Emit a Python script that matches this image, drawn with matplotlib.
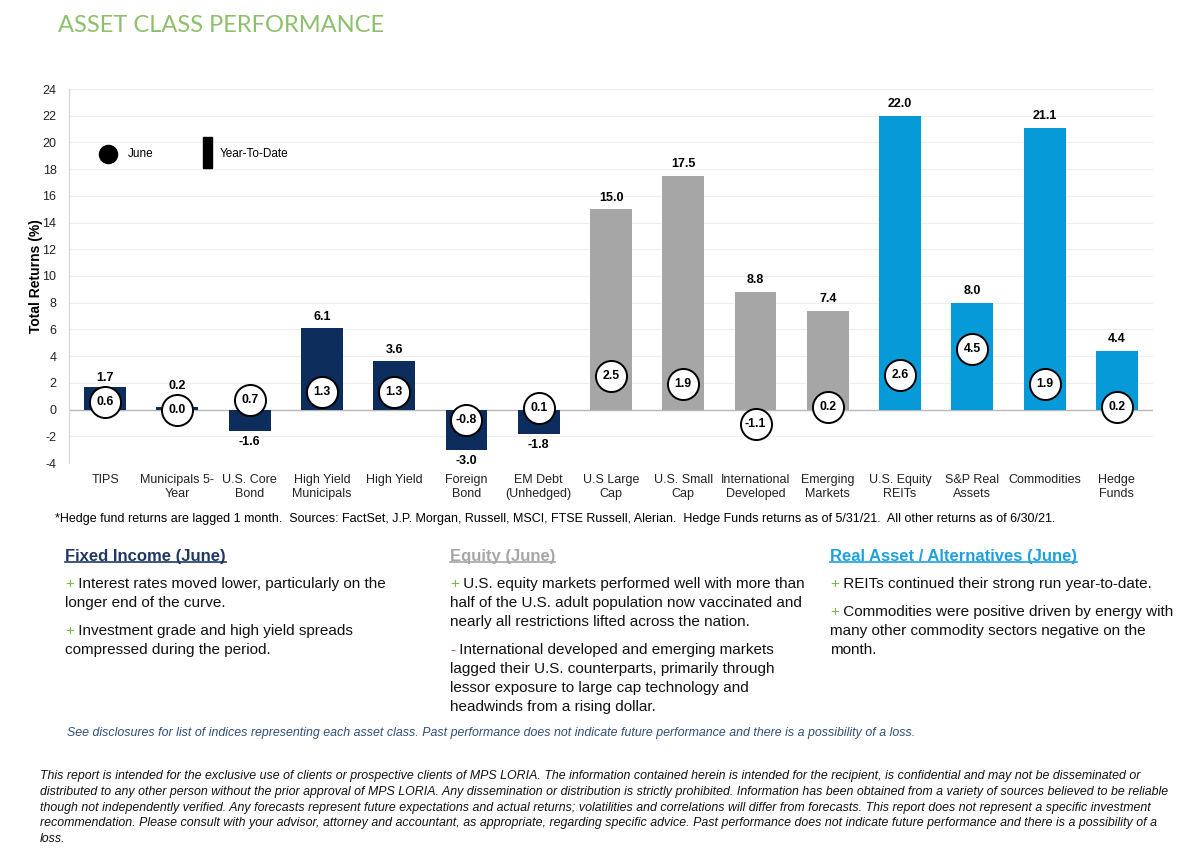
import numpy as np
import matplotlib.pyplot as plt
from matplotlib.lines import Line2D
from matplotlib.patches import Rectangle

# chart data
categories = ['TIPS', 'Municipals 5-\nYear', 'U.S. Core\nBond', 'High Yield\nMunicipals', 'High Yield',
              'Foreign\nBond', 'EM Debt\n(Unhedged)', 'U.S Large\nCap', 'U.S. Small\nCap',
              'International\nDeveloped', 'Emerging\nMarkets', 'U.S. Equity\nREITs', 'S&P Real\nAssets',
              'Commodities', 'Hedge\nFunds']
ytd = [1.7, 0.2, -1.6, 6.1, 3.6, -3.0, -1.8, 15.0, 17.5, 8.8, 7.4, 22.0, 8.0, 21.1, 4.4]
june = [0.6, 0.0, 0.7, 1.3, 1.3, -0.8, 0.1, 2.5, 1.9, -1.1, 0.2, 2.6, 4.5, 1.9, 0.2]
groups = ['fixed'] * 7 + ['equity'] * 4 + ['real'] * 4
yticks = list(range(-4, 25, 2))

group_colors = {'fixed': '#0c2d5c', 'equity': '#a6a6a6', 'real': '#069bd8'}
heading_colors = {'fixed': '#1f3864', 'equity': '#a6a6a6', 'real': '#1fa0dc'}

title = 'ASSET CLASS PERFORMANCE'
source_note = ('*Hedge fund returns are lagged 1 month.  Sources: FactSet, J.P. Morgan, Russell, MSCI, '
               'FTSE Russell, Alerian.  Hedge Funds returns as of 5/31/21.  All other returns as of 6/30/21.')

columns = [
    ('fixed', 'Fixed Income (June)', [
        ('+', ['Interest rates moved lower, particularly on the', 'longer end of the curve.']),
        ('+', ['Investment grade and high yield spreads', 'compressed during the period.']),
    ]),
    ('equity', 'Equity (June)', [
        ('+', ['U.S. equity markets performed well with more than',
               'half of the U.S. adult population now vaccinated and',
               'nearly all restrictions lifted across the nation.']),
        ('-', ['International developed and emerging markets',
               'lagged their U.S. counterparts, primarily through',
               'lessor exposure to large cap technology and',
               'headwinds from a rising dollar.']),
    ]),
    ('real', 'Real Asset / Alternatives (June)', [
        ('+', ['REITs continued their strong run year-to-date.']),
        ('+', ['Commodities were positive driven by energy with',
               'many other commodity sectors negative on the',
               'month.']),
    ]),
]

see_note = ('See disclosures for list of indices representing each asset class. Past performance does not '
            'indicate future performance and there is a possibility of a loss.')
disclaimer = [
    'This report is intended for the exclusive use of clients or prospective clients of MPS LORIA. The information contained herein is intended for the recipient, is confidential and may not be disseminated or',
    'distributed to any other person without the prior approval of MPS LORIA. Any dissemination or distribution is strictly prohibited. Information has been obtained from a variety of sources believed to be reliable',
    'though not independently verified. Any forecasts represent future expectations and actual returns; volatilities and correlations will differ from forecasts. This report does not represent a specific investment',
    'recommendation. Please consult with your advisor, attorney and accountant, as appropriate, regarding specific advice. Past performance does not indicate future performance and there is a possibility of a',
    'loss.',
]

W, H = 1200, 851
def fx(px):
    return px / W
def fy(py):
    return 1 - py / H

body = ['Liberation Sans', 'DejaVu Sans']
narrow = ['Liberation Sans Narrow', 'Liberation Sans', 'DejaVu Sans']
plt.rcParams['font.family'] = body

fig = plt.figure(figsize=(12, 8.51), dpi=100)
ax = fig.add_axes([fx(69), fy(463), fx(1153) - fx(69), fy(89) - fy(463)])

x = np.arange(len(categories))
colors = [group_colors[g] for g in groups]
ax.bar(x, ytd, width=0.58, color=colors, zorder=2)
ax.axhline(0, color='#b8b8b8', lw=1, zorder=1)
ax.scatter(x, june, s=500, facecolor='white', edgecolor='black', linewidth=1.4, zorder=4)
for i in range(len(x)):
    ax.text(x[i], june[i], f'{june[i]:.1f}', ha='center', va='center', fontsize=8.8,
            fontweight='bold', zorder=5)
    if ytd[i] >= 0:
        if june[i] + 1.1 > ytd[i]:
            ax.annotate(f'{ytd[i]:.1f}', (x[i], june[i]), xytext=(0, 13), textcoords='offset points',
                        ha='center', va='bottom', fontsize=9, fontweight='bold')
        else:
            ax.annotate(f'{ytd[i]:.1f}', (x[i], ytd[i]), xytext=(0, 4), textcoords='offset points',
                        ha='center', va='bottom', fontsize=9, fontweight='bold')
    else:
        ax.annotate(f'{ytd[i]:.1f}', (x[i], ytd[i]), xytext=(0, -4), textcoords='offset points',
                    ha='center', va='top', fontsize=9, fontweight='bold')

ax.set_xlim(-0.5, len(categories) - 0.5)
ax.set_ylim(-4, 24)
ax.set_yticks(yticks)
ax.set_yticklabels([str(t) for t in yticks], fontsize=9, color='#222222')
ax.set_xticks(x)
ax.set_xticklabels(categories, fontsize=9, color='#222222', linespacing=1.25)
ax.tick_params(axis='both', length=0)
ax.tick_params(axis='y', pad=9)
ax.tick_params(axis='x', pad=8)
ax.grid(axis='y', color='#eeeeee', lw=0.8, zorder=0)
ax.set_axisbelow(True)
for s in ['top', 'right', 'bottom']:
    ax.spines[s].set_visible(False)
ax.spines['left'].set_color('#d4d4d4')
ax.set_ylabel('Total Returns (%)', fontsize=10, fontweight='bold')
ax.yaxis.set_label_coords(-0.024, 0.5)

# legend
ax.scatter([0.036], [0.826], s=170, color='black', transform=ax.transAxes, clip_on=False)
ax.text(0.054, 0.826, 'June', transform=ax.transAxes, fontsize=8.5, va='center')
ax.add_patch(Rectangle((0.124, 0.789), 0.008, 0.083, transform=ax.transAxes, color='black'))
ax.text(0.139, 0.826, 'Year-To-Date', transform=ax.transAxes, fontsize=8.5, va='center')

fig.text(fx(58), fy(25), title, color='#8cc06a', fontsize=17, va='center',
         family=['Lato', 'DejaVu Sans'])
fig.text(fx(55), fy(519), source_note, fontsize=9, va='center')

col_x = [65, 450, 830]
headings = []
for cx, (g, head, paras) in zip(col_x, columns):
    h = fig.text(fx(cx), fy(556), head, color=heading_colors[g], fontsize=12, fontweight='bold',
                 va='center')
    headings.append(h)
    yy = 584
    for sign, lines in paras:
        sc = '#7ab648' if sign == '+' else '#d9534f'
        t = fig.text(fx(cx), fy(yy), sign, color=sc, fontsize=11, va='center')
        ax.annotate(' ' + lines[0], xy=(1, 0.5), xycoords=t, va='center', fontsize=11,
                    color='#111111', annotation_clip=False)
        for ln in lines[1:]:
            yy += 19
            fig.text(fx(cx), fy(yy), ln, fontsize=11, va='center', color='#111111')
        yy += 28

fig.text(fx(67), fy(733), see_note, color='#2f4f7a', fontsize=8.95, style='italic', va='center',
         family=narrow)
for k, ln in enumerate(disclaimer):
    fig.text(fx(40), fy(776 + 15.8 * k), ln, fontsize=8.9, style='italic', va='center',
             color='#111111', family=narrow)

# underline section headings
fig.canvas.draw()
r = fig.canvas.get_renderer()
for h in headings:
    bb = h.get_window_extent(r)
    y0 = bb.y0 + 2
    fig.add_artist(Line2D([bb.x0 / W, bb.x1 / W], [y0 / H, y0 / H], color=h.get_color(), lw=1.2))

fig.savefig('out.png', dpi=100)
